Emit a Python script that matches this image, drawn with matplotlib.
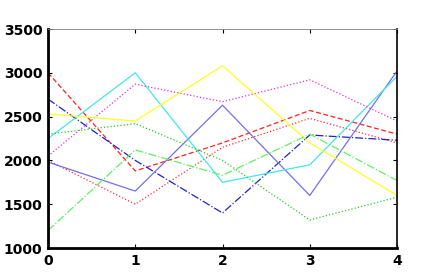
import matplotlib
matplotlib.use("Agg")
import matplotlib.pyplot as plt

# data
x = [0, 1, 2, 3, 4]
red_a = [3000, 1880, 2200, 2570, 2300]
red_b = [2000, 1500, 2150, 2480, 2200]
blue_dark = [2700, 2000, 1400, 2290, 2230]
blue_light = [1980, 1650, 2630, 1600, 3020]
cyan = [2250, 3000, 1750, 1950, 2960]
magenta = [2050, 2870, 2670, 2920, 2450]
yellow = [2530, 2450, 3080, 2200, 1600]
green_a = [2300, 2420, 2000, 1320, 1580]
green_b = [1200, 2120, 1830, 2300, 1770]

series = [
    (red_a, "#ff2020", (0, (4, 2))),
    (red_b, "#ff3030", ":"),
    (blue_dark, "#2020d0", "-."),
    (blue_light, "#7070f0", "-"),
    (cyan, "#40e8e8", "-"),
    (magenta, "#e030e0", ":"),
    (yellow, "#ffff20", "-"),
    (green_a, "#20d020", ":"),
    (green_b, "#60f060", "-."),
]

fig = plt.figure(figsize=(4.25, 2.8), dpi=100)
ax = fig.add_axes([48 / 425, 1 - 248 / 280, 349 / 425, 219 / 280])

for ys, c, ls in series:
    ax.plot(x, ys, color=c, linestyle=ls, linewidth=0.9)

ax.set_xlim(0, 4)
ax.set_ylim(1000, 3500)
ax.set_xticks(x)
ax.set_yticks([1000, 1500, 2000, 2500, 3000, 3500])
ax.tick_params(direction="in", length=3, top=True, right=True, labelsize=10, pad=4)
for lab in ax.get_xticklabels() + ax.get_yticklabels():
    lab.set_fontweight("bold")

ax.spines["left"].set_linewidth(2)
ax.spines["bottom"].set_linewidth(2)
ax.spines["right"].set_linewidth(1.2)
ax.spines["top"].set_linewidth(0.6)
ax.spines["top"].set_color("#808080")

fig.savefig("out.png", dpi=100)
